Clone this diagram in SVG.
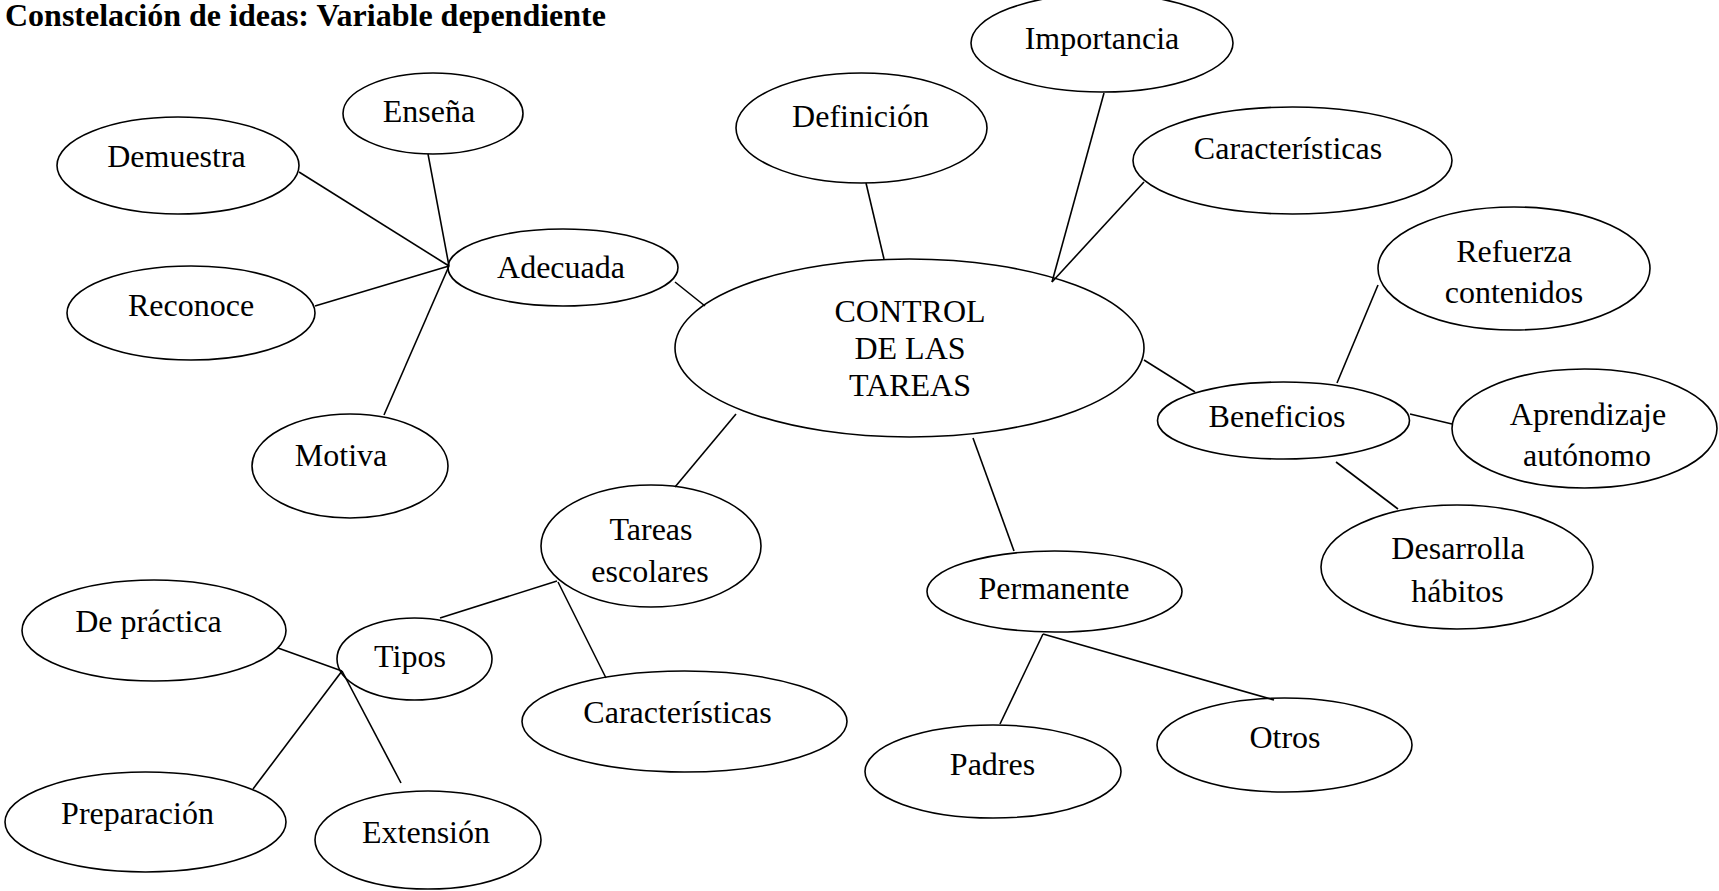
<svg xmlns="http://www.w3.org/2000/svg" width="1719" height="891" viewBox="0 0 1719 891">
<style>
.bg{fill:#ffffff}
.n ellipse{fill:none;stroke:#000;stroke-width:1.6}
.n text,.t{font-family:"Liberation Serif","Times New Roman",serif;font-size:32px;fill:#000;text-anchor:middle}
.title{font-family:"Liberation Serif","Times New Roman",serif;font-size:32px;font-weight:bold;fill:#000}
#connectors line{stroke:#000;stroke-width:1.6;fill:none}
</style>
<rect class="bg" x="0" y="0" width="1719" height="891"/>
<text class="title" x="5" y="26">Constelación de ideas: Variable dependiente</text>
<g id="connectors">
<line x1="299" y1="172" x2="449" y2="266"/>
<line x1="428" y1="154" x2="449" y2="266"/>
<line x1="315" y1="306" x2="449" y2="266"/>
<line x1="384" y1="415" x2="449" y2="266"/>
<line x1="675" y1="282" x2="705" y2="306"/>
<line x1="866" y1="183" x2="884" y2="259"/>
<line x1="1104" y1="93" x2="1052" y2="282"/>
<line x1="1144" y1="182" x2="1052" y2="282"/>
<line x1="1144" y1="360" x2="1195" y2="392"/>
<line x1="1378" y1="285" x2="1337" y2="383"/>
<line x1="1410" y1="414" x2="1452" y2="424"/>
<line x1="1336" y1="462" x2="1398" y2="509"/>
<line x1="973" y1="438" x2="1014" y2="551"/>
<line x1="1043" y1="634" x2="1000" y2="724"/>
<line x1="1043" y1="634" x2="1274" y2="700"/>
<line x1="736" y1="414" x2="675" y2="487"/>
<line x1="557" y1="581" x2="440" y2="618"/>
<line x1="558" y1="582" x2="606" y2="678"/>
<line x1="278" y1="648" x2="342" y2="671"/>
<line x1="253" y1="789" x2="342" y2="671"/>
<line x1="401" y1="783" x2="342" y2="671"/>
</g>
<g id="control" class="n"><ellipse cx="909.5" cy="348" rx="234.5" ry="89"/><text x="910" y="322">CONTROL</text><text x="910" y="359">DE LAS</text><text x="910" y="396">TAREAS</text></g>
<g id="demuestra" class="n"><ellipse cx="178" cy="165.5" rx="121" ry="48.5"/><text x="176.5" y="167">Demuestra</text></g>
<g id="ensena" class="n"><ellipse cx="433" cy="113.5" rx="90" ry="40.5"/><text x="429" y="122">Enseña</text></g>
<g id="reconoce" class="n"><ellipse cx="191" cy="313" rx="124" ry="47"/><text x="191" y="316">Reconoce</text></g>
<g id="motiva" class="n"><ellipse cx="350" cy="466" rx="98" ry="52"/><text x="341" y="466">Motiva</text></g>
<g id="adecuada" class="n"><ellipse cx="563" cy="267.5" rx="115" ry="38.5"/><text x="561" y="278">Adecuada</text></g>
<g id="definicion" class="n"><ellipse cx="861.5" cy="128" rx="125.5" ry="55"/><text x="860.5" y="127">Definición</text></g>
<g id="importancia" class="n"><ellipse cx="1102" cy="43" rx="131" ry="49"/><text x="1102" y="49">Importancia</text></g>
<g id="caracteristicas1" class="n"><ellipse cx="1292.5" cy="160.5" rx="159.5" ry="53.5"/><text x="1288" y="159">Características</text></g>
<g id="refuerza" class="n"><ellipse cx="1514" cy="268.5" rx="136" ry="61.5"/><text x="1514" y="262">Refuerza</text><text x="1514" y="303">contenidos</text></g>
<g id="beneficios" class="n"><ellipse cx="1283.5" cy="420.5" rx="126" ry="38.5"/><text x="1277" y="427">Beneficios</text></g>
<g id="aprendizaje" class="n"><ellipse cx="1584.5" cy="428.5" rx="132.5" ry="59.5"/><text x="1588" y="425">Aprendizaje</text><text x="1587" y="466">autónomo</text></g>
<g id="desarrolla" class="n"><ellipse cx="1457" cy="567" rx="136" ry="62"/><text x="1458" y="559">Desarrolla</text><text x="1457.5" y="602">hábitos</text></g>
<g id="permanente" class="n"><ellipse cx="1054.5" cy="591.5" rx="127.5" ry="40.5"/><text x="1054" y="599">Permanente</text></g>
<g id="padres" class="n"><ellipse cx="993" cy="771.5" rx="128" ry="46.5"/><text x="992.5" y="775">Padres</text></g>
<g id="otros" class="n"><ellipse cx="1284.5" cy="745" rx="127.5" ry="47"/><text x="1285" y="748">Otros</text></g>
<g id="tareas" class="n"><ellipse cx="651" cy="546" rx="110" ry="61"/><text x="651" y="540">Tareas</text><text x="650" y="582">escolares</text></g>
<g id="caracteristicas2" class="n"><ellipse cx="684.5" cy="721.5" rx="162.5" ry="50.5"/><text x="677.5" y="723">Características</text></g>
<g id="tipos" class="n"><ellipse cx="414.5" cy="659" rx="77.5" ry="41"/><text x="410" y="667">Tipos</text></g>
<g id="depractica" class="n"><ellipse cx="154" cy="630.5" rx="132" ry="50.5"/><text x="148.5" y="632">De práctica</text></g>
<g id="preparacion" class="n"><ellipse cx="145.5" cy="822" rx="140.5" ry="50"/><text x="137.5" y="824">Preparación</text></g>
<g id="extension" class="n"><ellipse cx="428" cy="840" rx="113" ry="49"/><text x="426" y="843">Extensión</text></g>
</svg>
